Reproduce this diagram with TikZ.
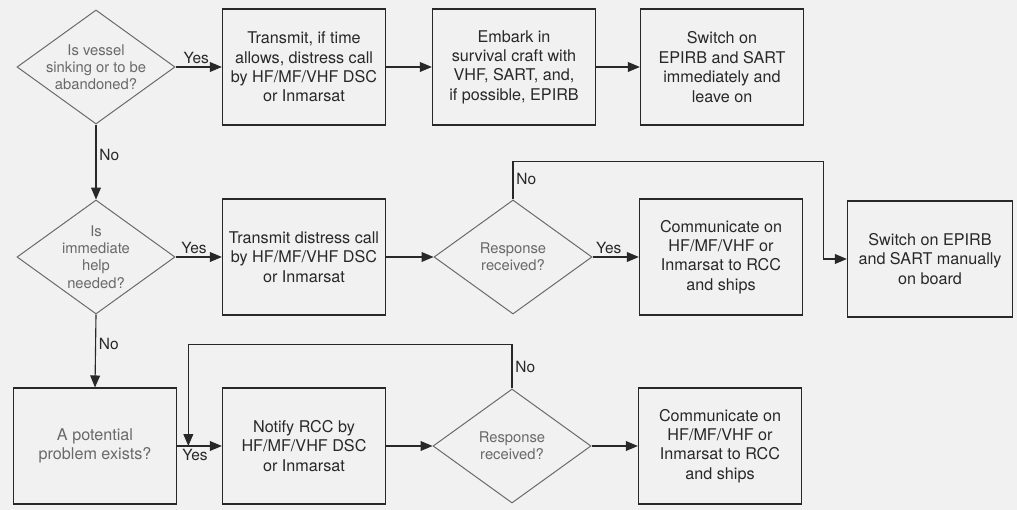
\documentclass[tikz,border=0pt]{standalone}
\usepackage{fontspec}
\setmainfont{TeX Gyre Heros}
\definecolor{lineink}{RGB}{40,40,40}
\definecolor{diaink}{RGB}{105,105,105}
\definecolor{scanbg}{RGB}{241,241,241}
\usetikzlibrary{arrows.meta,positioning,shapes.geometric,calc}

\begin{document}
\begin{tikzpicture}[x=0.025cm, y=-0.025cm,
    act/.style={rectangle, draw=lineink, line width=0.8pt, minimum width=4.08cm, minimum height=2.9cm,
      inner sep=0pt, align=center, text=lineink, font=\fontsize{11.5}{13.8}\selectfont},
    dec/.style={diamond, draw=diaink, line width=0.7pt, minimum width=3.95cm, minimum height=2.85cm,
      inner sep=0pt},
    dectxt/.style={align=center, text=diaink, font=\fontsize{10.5}{12.2}\selectfont},
    arr/.style={-{Triangle[length=8.5pt,width=7pt]}, line width=0.8pt, lineink},
    ans/.style={font=\fontsize{11}{13}\selectfont, text=lineink, inner sep=2pt}
  ]
    % scanned page
    \fill[scanbg] (0,0) rectangle (1017,510);
    \useasboundingbox (0,0) rectangle (1017,510);

    % Row 1: vessel sinking
    \node[dec, label={[dectxt]center:Is vessel\\sinking or to be\\abandoned?}] (d1) at (96,67) {};
    \node[act] (b1) at (304,67) {Transmit, if time\\allows, distress call\\by HF/MF/VHF DSC\\or Inmarsat};
    \node[act] (b2) at (514,67) {Embark in\\survival craft with\\VHF, SART, and,\\if possible, EPIRB};
    \node[act] (b3) at (722,67) {Switch on\\EPIRB and SART\\immediately and\\leave on};

    % Row 2: immediate help
    \node[dec, label={[dectxt]center:Is\\immediate\\help\\needed?}] (d2) at (96,257) {};
    \node[act] (b4) at (304,257) {Transmit distress call\\by HF/MF/VHF DSC\\or Inmarsat};
    \node[dec, label={[dectxt]center:Response\\received?}] (d3) at (513,257) {};
    \node[act] (b5) at (721,257) {Communicate on\\HF/MF/VHF or\\Inmarsat to RCC\\and ships};
    \node[act, minimum width=4.13cm] (b6) at (930,259) {Switch on EPIRB\\and SART manually\\on board};

    % Row 3: potential problem
    \node[act, text=diaink] (b7) at (95,446) {A potential\\problem exists?};
    \node[act] (b8) at (304,446) {Notify RCC by\\HF/MF/VHF DSC\\or Inmarsat};
    \node[dec, label={[dectxt]center:Response\\received?}] (d4) at (512,446) {};
    \node[act] (b9) at (720,446) {Communicate on\\HF/MF/VHF or\\Inmarsat to RCC\\and ships};

    \coordinate (k1) at ($(b6.west)+(-23,0)$);
    \coordinate (j1) at ($(b7.east)!0.25!(b8.west)$);

    % connectors
    \draw[arr] (d1.east) -- node[ans, above, pos=0.45] {Yes} (b1.west);
    \draw[arr] (b1.east) -- (b2.west);
    \draw[arr] (b2.east) -- (b3.west);
    \draw[arr] (d1.south) -- node[ans, right, pos=0.4] {No} (d2.north);

    \draw[arr] (d2.east) -- node[ans, above, pos=0.4] {Yes} (b4.west);
    \draw[arr] (b4.east) -- (d3.west);
    \draw[arr] (d3.east) -- node[ans, above, pos=0.35] {Yes} (b5.west);
    \draw[arr] (d3.north) -- node[ans, right, pos=0.55] {No} ++(0,-38) -| (k1) -- (b6.west);
    \draw[arr] (d2.south) -- node[ans, right, pos=0.4] {No} (b7.north);

    \draw[arr] (b7.east) -- node[ans, below, pos=0.4] {Yes} (b8.west);
    \draw[arr] (b8.east) -- (d4.west);
    \draw[arr] (d4.north) -- node[ans, right] {No} ++(0,-44) -| (j1);
    \draw[arr] (d4.east) -- (b9.west);
\end{tikzpicture}
\end{document}
